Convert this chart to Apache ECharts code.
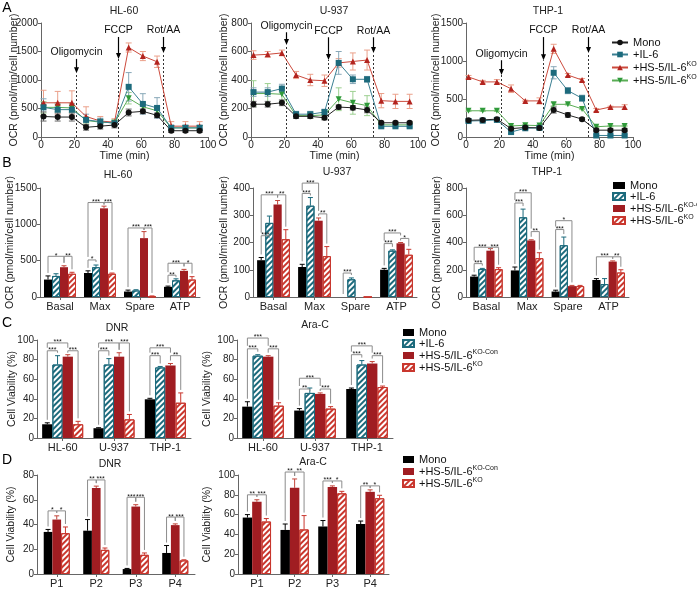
<!DOCTYPE html>
<html><head><meta charset="utf-8">
<script src="https://cdn.jsdelivr.net/npm/echarts@6/dist/echarts.min.js"></script>
<style>html,body{margin:0;padding:0;background:#fff}#c{width:697px;height:589px}</style>
</head><body><div id="c"></div><script>
// ================= DATA =================
// Row A: Seahorse OCR time courses
const timeMin = [1.5, 10, 18.5, 27, 35.5, 44, 52.5, 61, 69.5, 78, 86.5, 95];
const injectNames = ['Oligomycin', 'FCCP', 'Rot/AA'];
const injectTimes = [21, 46, 73];

const hl60Mono     = [360, 350, 350, 170, 190, 210, 430, 450, 380, 110, 110, 110];
const hl60MonoErr  = [80, 70, 70, 50, 50, 50, 60, 40, 40, 30, 30, 30];
const hl60IL6      = [520, 480, 480, 300, 270, 240, 880, 580, 510, 160, 160, 160];
const hl60IL6Err   = [150, 100, 100, 100, 60, 50, 250, 180, 180, 50, 50, 50];
const hl60KOCon    = [600, 600, 600, 360, 280, 260, 1570, 1420, 1320, 190, 190, 190];
const hl60KOConErr = [220, 200, 210, 170, 80, 60, 80, 80, 100, 80, 80, 80];
const hl60KO       = [520, 520, 510, 290, 260, 250, 680, 530, 460, 160, 160, 160];
const hl60KOErr    = [100, 80, 80, 60, 50, 50, 100, 80, 80, 40, 40, 40];

const u937Mono     = [230, 230, 240, 145, 145, 135, 210, 205, 190, 100, 100, 100];
const u937MonoErr  = [20, 20, 20, 15, 15, 15, 15, 15, 20, 10, 10, 10];
const u937IL6      = [315, 315, 340, 160, 160, 175, 520, 405, 405, 75, 75, 75];
const u937IL6Err   = [30, 30, 30, 20, 20, 20, 80, 30, 20, 10, 10, 10];
const u937KOCon    = [575, 580, 590, 435, 400, 395, 520, 530, 540, 255, 250, 250];
const u937KOConErr = [30, 20, 20, 25, 40, 40, 30, 60, 70, 50, 50, 50];
const u937KO       = [305, 305, 300, 150, 150, 155, 265, 240, 220, 85, 85, 85];
const u937KOErr    = [90, 70, 50, 20, 20, 30, 80, 80, 70, 10, 10, 10];

const thp1Mono     = [220, 225, 235, 110, 125, 120, 355, 290, 235, 90, 90, 90];
const thp1MonoErr  = [20, 20, 20, 20, 20, 20, 40, 30, 20, 20, 20, 20];
const thp1IL6      = [210, 215, 225, 65, 115, 120, 845, 610, 510, 20, 20, 20];
const thp1IL6Err   = [20, 20, 20, 20, 20, 20, 80, 40, 40, 10, 10, 10];
const thp1KOCon    = [790, 725, 725, 635, 475, 475, 1160, 815, 750, 355, 395, 395];
const thp1KOConErr = [20, 20, 30, 50, 10, 40, 60, 20, 20, 20, 10, 30];
const thp1KO       = [345, 345, 345, 145, 155, 150, 430, 430, 370, 135, 145, 145];
const thp1KOErr    = [10, 10, 10, 10, 10, 10, 20, 10, 10, 10, 10, 10];

// Row B: OCR parameters
const ocrCats = ['Basal', 'Max', 'Spare', 'ATP'];
const bHL60Mono = [240, 330, 75, 140],   bHL60MonoErr = [50, 30, 20, 10];
const bHL60IL6  = [290, 410, 90, 230],   bHL60IL6Err  = [30, 30, 10, 20];
const bHL60KOCon= [410, 1220, 810, 360], bHL60KOConErr= [20, 30, 90, 20];
const bHL60KO   = [320, 320, 5, 240],    bHL60KOErr   = [20, 10, 10, 40];
const bU937Mono = [135, 110, 0, 100],    bU937MonoErr = [10, 10, 0, 5];
const bU937IL6  = [272, 335, 65, 170],   bU937IL6Err  = [25, 30, 5, 3];
const bU937KOCon= [339, 280, 0, 197],    bU937KOConErr= [15, 10, 0, 3];
const bU937KO   = [212, 150, 0, 155],    bU937KOErr   = [35, 35, 0, 20];
const bTHP1Mono = [150, 195, 40, 125],   bTHP1MonoErr = [10, 25, 10, 10];
const bTHP1IL6  = [205, 585, 380, 95],   bTHP1IL6Err  = [5, 60, 60, 40];
const bTHP1KOCon= [340, 415, 80, 260],   bTHP1KOConErr= [15, 5, 5, 5];
const bTHP1KO   = [205, 285, 80, 180],   bTHP1KOErr   = [10, 40, 5, 20];
// brackets: [category, fromGroup, toGroup, level, label]
const bHL60Sig = [[0,0,2,560,'*'],[0,2,3,560,'**'],[1,0,1,510,'*'],[1,0,2,1300,'***'],[1,2,3,1300,'***'],[2,0,2,950,'***'],[2,2,3,950,'***'],[3,0,1,300,'**'],[3,0,2,465,'***'],[3,2,3,465,'*']];
const bU937Sig = [[0,0,1,225,'***'],[0,0,2,375,'***'],[0,2,3,375,'**'],[1,0,1,380,'***'],[1,0,2,418,'***'],[1,2,3,305,'**'],[2,0,1,88,'***'],[3,0,1,196,'***'],[3,0,2,235,'***'],[3,2,3,215,'*']];
const bTHP1Sig = [[0,0,1,245,'***'],[0,0,2,365,'***'],[0,2,3,365,'***'],[1,0,1,690,'***'],[1,0,2,765,'***'],[1,2,3,480,'**'],[2,0,1,495,'***'],[2,0,2,560,'*'],[3,0,2,295,'***'],[3,2,3,295,'**']];

// Row C: cell viability, cell lines
const lineCats = ['HL-60', 'U-937', 'THP-1'];
const cDNRMono = [14, 10, 39.5],  cDNRMonoErr = [1.5, 0.5, 1];
const cDNRIL6  = [75, 75, 72],    cDNRIL6Err  = [9, 6, 1];
const cDNRKOCon= [83, 83, 74],    cDNRKOConErr= [2, 4, 2];
const cDNRKO   = [14, 19, 36],    cDNRKOErr   = [3, 5, 10];
const cAraMono = [32, 28, 50],    cAraMonoErr = [5, 2, 1];
const cAraIL6  = [84, 46, 75],    cAraIL6Err  = [1, 5, 4];
const cAraKOCon= [83, 45, 76],    cAraKOConErr= [1, 1, 2];
const cAraKO   = [33, 30, 52],    cAraKOErr   = [3, 2, 1];
const cDNRSig = [[0,0,1,89,'***'],[0,0,2,97,'***'],[0,2,3,89,'***'],[1,0,1,89,'***'],[1,0,2,97,'***'],[1,2,3,97,'***'],[2,0,1,84,'***'],[2,0,2,92,'***'],[2,2,3,84,'**']];
const cAraSig = [[0,0,1,91,'***'],[0,0,2,102,'***'],[0,2,3,91,'***'],[1,0,1,50,'**'],[1,0,2,61,'***'],[1,2,3,50,'***'],[2,0,1,85,'***'],[2,0,2,94,'***'],[2,2,3,84,'***']];

// Row D: primary samples
const patientCats = ['P1', 'P2', 'P3', 'P4'];
const dDNRMono = [34, 35, 4, 17],       dDNRMonoErr = [2, 9, 0.5, 6];
const dDNRKOCon= [44, 69.5, 54.5, 39.5], dDNRKOConErr= [3, 1.5, 1.5, 1];
const dDNRKO   = [33, 19.5, 15.5, 11],  dDNRKOErr   = [5, 1.5, 1.5, 0.5];
const dAraMono = [57, 44.5, 48, 50.5],  dAraMonoErr = [3, 6, 6, 3];
const dAraKOCon= [73, 87, 88, 83],      dAraKOConErr= [2, 9, 1, 2];
const dAraKO   = [53, 45, 81.5, 76.5],  dAraKOErr   = [3, 14, 2, 3];
const dDNRSig = [[0,0,1,51,'*'],[0,1,2,51,'*'],[1,0,1,76,'**'],[1,1,2,76,'***'],[2,0,1,62,'***'],[2,1,2,62,'***'],[3,0,1,46,'**'],[3,1,2,46,'***']];
const dAraSig = [[0,0,1,80,'**'],[0,1,2,80,'***'],[1,0,1,103,'**'],[1,1,2,103,'**'],[2,0,1,94,'***'],[2,1,2,94,'*'],[3,0,1,89,'**'],[3,1,2,89,'*']];

// ================= STYLE / BUILD =================
const FONT = '"Liberation Sans", Arial, Helvetica, sans-serif';
const TEAL = '#1c6a7c', RED = '#a01d22', RED2 = '#c9372e';
const LEG_TEXT = {mono:'{n|Mono}', il6:'{n|+IL-6}', kocon:'{n|+HS-5/IL-6}{sup|KO-Con}', ko:'{n|+HS-5/IL-6}{sup|KO}'};

const option = {animation:false, textStyle:{fontFamily:FONT}, grid:[], xAxis:[], yAxis:[], series:[], legend:[], graphic:[]};

function axisBase(){
  return {
    axisLine:{show:true, onZero:false, lineStyle:{color:'#666', width:1}},
    axisTick:{show:true, length:3, lineStyle:{color:'#666'}},
    axisLabel:{color:'#222', fontSize:10, fontFamily:FONT, margin:3, showMaxLabel:true, showMinLabel:true, hideOverlap:false, formatter:v => String(v)},
    splitLine:{show:false},
    nameMoveOverlap:false,
    nameTextStyle:{color:'#222', fontSize:10.5, fontFamily:FONT}
  };
}
function txt(text, x, y, size, extra){
  option.graphic.push({type:'text', x:x, y:y, silent:true, style:Object.assign({text:text, fontSize:size, fontFamily:FONT, fill:'#222', align:'center', verticalAlign:'middle', textAlign:'center', textVerticalAlign:'middle'}, extra||{})});
}
function legendCfg(keys, left, top, itemW, itemH, gap){
  return {orient:'vertical', left:left, top:top, data:keys, itemWidth:itemW, itemHeight:itemH, itemGap:gap, icon: itemW<14 ? 'rect' : undefined,
    selectedMode:false, padding:0,
    formatter:function(n){ return LEG_TEXT[n.split('-')[1]]; },
    textStyle:{fontSize:11, color:'#111', fontFamily:FONT, rich:{n:{fontSize:11, lineHeight:13, fontFamily:FONT, color:'#111'}, sup:{fontSize:7, lineHeight:13, verticalAlign:'top', fontFamily:FONT, color:'#111'}}}};
}

// ---------- line panels ----------
const LINE_GROUPS = [
  {key:'mono',  color:'#111',    line:'#222',    err:'#666',    symbol:'circle',   rot:0},
  {key:'il6',   color:TEAL,      line:'#3a7f92', err:'#88a8b8', symbol:'rect',     rot:0},
  {key:'kocon', color:'#b3241f', line:'#cc4a3c', err:'#eba08a', symbol:'triangle', rot:0},
  {key:'ko',    color:'#2f9a3a', line:'#5aad55', err:'#9ccf90', symbol:'triangle', rot:180}
];
function lineErr(color){
  return function(params, api){
    const x = api.value(0), v = api.value(1), e = api.value(2);
    const p1 = api.coord([x, v + e]), p2 = api.coord([x, Math.max(0, v - e)]);
    const s = {stroke:color, lineWidth:1};
    return {type:'group', children:[
      {type:'line', shape:{x1:p1[0], y1:p1[1], x2:p2[0], y2:p2[1]}, style:s},
      {type:'line', shape:{x1:p1[0]-3, y1:p1[1], x2:p1[0]+3, y2:p1[1]}, style:s},
      {type:'line', shape:{x1:p2[0]-3, y1:p2[1], x2:p2[0]+3, y2:p2[1]}, style:s}
    ]};
  };
}
function injRender(params, api){
  const t = api.value(0);
  const base = api.coord([t, 0]), tip = api.coord([t, api.value(1)]), top = api.coord([t, api.value(2)]);
  const x = Math.round(base[0]) + 0.5;
  return {type:'group', children:[
    {type:'line', shape:{x1:x, y1:base[1], x2:x, y2:tip[1]}, style:{stroke:'#333', lineWidth:1, lineDash:[2,2]}},
    {type:'line', shape:{x1:x, y1:top[1], x2:x, y2:tip[1]-5}, style:{stroke:'#000', lineWidth:1.2}},
    {type:'polygon', shape:{points:[[x-2.5, tip[1]-6], [x+2.5, tip[1]-6], [x, tip[1]]]}, style:{fill:'#000'}},
    {type:'text', style:{text:injectNames[params.dataIndex], x:x, y:top[1]-1, align:'center', verticalAlign:'bottom', textAlign:'center', textVerticalAlign:'bottom', fontSize:10.5, fontFamily:FONT, fill:'#111'}}
  ]};
}
function linePanel(p){
  const gi = option.grid.length;
  option.grid.push({left:p.left, top:p.top, width:p.width, height:p.height});
  option.xAxis.push(Object.assign(axisBase(), {type:'value', gridIndex:gi, min:0, max:100, interval:20, name:'Time (min)', nameLocation:'middle', nameGap:14}));
  option.yAxis.push(Object.assign(axisBase(), {type:'value', gridIndex:gi, min:0, max:p.yMax, interval:p.yInt, name:'OCR (pmol/min/cell number)', nameLocation:'middle', nameGap:p.nameGap}));
  option.series.push({type:'custom', xAxisIndex:gi, yAxisIndex:gi, silent:true, clip:false, z:1,
    data:injectTimes.map((t, i) => [t, p.injTip[i], p.injTop[i]]), renderItem:injRender});
  [3, 2, 1, 0].forEach(k => {
    const g = LINE_GROUPS[k];
    option.series.push({type:'custom', xAxisIndex:gi, yAxisIndex:gi, silent:true, z:2,
      data:timeMin.map((t, i) => [t, p.vals[k][i], p.errs[k][i]]), renderItem:lineErr(g.err)});
    option.series.push({type:'line', name:'A-' + g.key, xAxisIndex:gi, yAxisIndex:gi, z:3,
      data:timeMin.map((t, i) => [t, p.vals[k][i]]), symbol:g.symbol, symbolSize:6, symbolRotate:g.rot,
      lineStyle:{color:g.line, width:1}, itemStyle:{color:g.color}});
  });
}

// ---------- bar panels ----------
function hatch(color){ return {symbol:'rect', symbolSize:1, color:color, dashArrayX:[1,0], dashArrayY:[2,2], rotation:-Math.PI/4}; }
const BAR_STYLES = {
  mono:{item:{color:'#000'}, err:'#000'},
  il6:{item:{color:'#fff', borderColor:TEAL, borderWidth:1, decal:hatch(TEAL)}, err:TEAL},
  kocon:{item:{color:RED}, err:'#c2453a'},
  ko:{item:{color:'#fff', borderColor:RED2, borderWidth:1, decal:hatch(RED2)}, err:RED2}
};
function barErr(color, k, n, frac){
  return function(params, api){
    const ci = api.value(0), v = api.value(1), e = api.value(2);
    if (!(e > 0)) return;
    const band = api.size([1, 0])[0];
    const c0 = api.coord([ci, v]), c1 = api.coord([ci, v + e]);
    const x = c0[0] + (k - (n - 1) / 2) * frac * band;
    const s = {stroke:color, lineWidth:1};
    return {type:'group', children:[
      {type:'line', shape:{x1:x, y1:c0[1], x2:x, y2:c1[1]}, style:s},
      {type:'line', shape:{x1:x-2.5, y1:c1[1], x2:x+2.5, y2:c1[1]}, style:s}
    ]};
  };
}
function bracketRender(p){
  const n = p.groups.length;
  return function(params, api){
    const b = p.brackets[params.dataIndex];
    const ci = b[0];
    const band = api.size([1, 0])[0];
    const center = api.coord([ci, 0])[0];
    const xOf = k => center + (k - (n - 1) / 2) * p.frac * band;
    const yLine = api.coord([ci, b[3]])[1];
    const legBottom = k => {
      let base = p.groups[k].vals[ci] + p.groups[k].errs[ci];
      p.brackets.forEach(o => { if (o !== b && o[0] === ci && o[3] < b[3] && k >= o[1] && k <= o[2]) base = Math.max(base, o[3]); });
      let y = api.coord([ci, base])[1] - 3;
      if (y < yLine + 2) y = yLine + 2;
      return y;
    };
    const x1 = xOf(b[1]), x2 = xOf(b[2]);
    return {type:'group', children:[
      {type:'polyline', shape:{points:[[x1, legBottom(b[1])], [x1, yLine], [x2, yLine], [x2, legBottom(b[2])]]}, style:{stroke:'#8c8c8c', lineWidth:1, fill:null}},
      {type:'text', style:{text:b[4], x:(x1 + x2) / 2, y:yLine + 3, align:'center', verticalAlign:'bottom', textAlign:'center', textVerticalAlign:'bottom', fontSize:7, fontFamily:FONT, fill:'#111'}}
    ]};
  };
}
function barPanel(p){
  const gi = option.grid.length;
  option.grid.push({left:p.left, top:p.top, width:p.width, height:p.height});
  option.xAxis.push(Object.assign(axisBase(), {type:'category', gridIndex:gi, data:p.cats,
    axisTick:{show:true, alignWithLabel:true, length:3, lineStyle:{color:'#666'}},
    axisLabel:{color:'#222', fontSize:11, fontFamily:FONT, margin:4}}));
  option.yAxis.push(Object.assign(axisBase(), {type:'value', gridIndex:gi, min:0, max:p.yMax, interval:p.yInt, name:p.yName, nameLocation:'middle', nameGap:p.nameGap}));
  const n = p.groups.length;
  p.groups.forEach((g, k) => {
    const st = BAR_STYLES[g.key];
    option.series.push({type:'bar', name:p.prefix + '-' + g.key, xAxisIndex:gi, yAxisIndex:gi, data:g.vals,
      barWidth:(p.frac * 100) + '%', barGap:'0%', itemStyle:st.item, z:2});
    option.series.push({type:'custom', xAxisIndex:gi, yAxisIndex:gi, silent:true, z:4,
      data:g.vals.map((v, i) => [i, v, g.errs[i]]), renderItem:barErr(st.err, k, n, p.frac)});
  });
  option.series.push({type:'custom', xAxisIndex:gi, yAxisIndex:gi, silent:true, clip:false, z:5,
    data:p.brackets.map(b => [b[0], b[3]]), renderItem:bracketRender(p)});
}
function grp(key, vals, errs){ return {key:key, vals:vals, errs:errs}; }

// ----- Row A -----
linePanel({left:41, top:23, width:167, height:114, yMax:2000, yInt:500, nameGap:21,
  vals:[hl60Mono, hl60IL6, hl60KOCon, hl60KO], errs:[hl60MonoErr, hl60IL6Err, hl60KOConErr, hl60KOErr],
  injTip:[1120, 1370, 1475], injTop:[1370, 1755, 1755]});
linePanel({left:251, top:23, width:167, height:114, yMax:800, yInt:200, nameGap:21,
  vals:[u937Mono, u937IL6, u937KOCon, u937KO], errs:[u937MonoErr, u937IL6Err, u937KOConErr, u937KOErr],
  injTip:[645, 540, 590], injTop:[735, 700, 700]});
linePanel({left:466, top:23, width:167, height:114, yMax:1500, yInt:500, nameGap:24,
  vals:[thp1Mono, thp1IL6, thp1KOCon, thp1KO], errs:[thp1MonoErr, thp1IL6Err, thp1KOConErr, thp1KOErr],
  injTip:[815, 1010, 1105], injTop:[1010, 1315, 1315]});

// ----- Row B -----
const OCR_NAME = 'OCR (pmol/min/cell number)';
barPanel({left:40, top:188, width:160, height:109, yMax:1500, yInt:500, yName:OCR_NAME, nameGap:24, frac:0.2, prefix:'B', cats:ocrCats,
  groups:[grp('mono', bHL60Mono, bHL60MonoErr), grp('il6', bHL60IL6, bHL60IL6Err), grp('kocon', bHL60KOCon, bHL60KOConErr), grp('ko', bHL60KO, bHL60KOErr)], brackets:bHL60Sig});
barPanel({left:253, top:188, width:164, height:109, yMax:400, yInt:100, yName:OCR_NAME, nameGap:23, frac:0.2, prefix:'B', cats:ocrCats,
  groups:[grp('mono', bU937Mono, bU937MonoErr), grp('il6', bU937IL6, bU937IL6Err), grp('kocon', bU937KOCon, bU937KOConErr), grp('ko', bU937KO, bU937KOErr)], brackets:bU937Sig});
barPanel({left:466, top:188, width:163, height:109, yMax:800, yInt:200, yName:OCR_NAME, nameGap:23, frac:0.2, prefix:'B', cats:ocrCats,
  groups:[grp('mono', bTHP1Mono, bTHP1MonoErr), grp('il6', bTHP1IL6, bTHP1IL6Err), grp('kocon', bTHP1KOCon, bTHP1KOConErr), grp('ko', bTHP1KO, bTHP1KOErr)], brackets:bTHP1Sig});

// ----- Row C -----
const VIA_NAME = 'Cell Viability (%)';
barPanel({left:37, top:340, width:154, height:98, yMax:100, yInt:20, yName:VIA_NAME, nameGap:19, frac:0.2, prefix:'C', cats:lineCats,
  groups:[grp('mono', cDNRMono, cDNRMonoErr), grp('il6', cDNRIL6, cDNRIL6Err), grp('kocon', cDNRKOCon, cDNRKOConErr), grp('ko', cDNRKO, cDNRKOErr)], brackets:cDNRSig});
barPanel({left:237, top:340, width:156, height:98, yMax:100, yInt:20, yName:VIA_NAME, nameGap:24, frac:0.2, prefix:'C', cats:lineCats,
  groups:[grp('mono', cAraMono, cAraMonoErr), grp('il6', cAraIL6, cAraIL6Err), grp('kocon', cAraKOCon, cAraKOConErr), grp('ko', cAraKO, cAraKOErr)], brackets:cAraSig});

// ----- Row D -----
barPanel({left:37, top:475, width:158, height:101, yMax:80, yInt:20, yName:VIA_NAME, nameGap:20, frac:0.22, prefix:'D', cats:patientCats,
  groups:[grp('mono', dDNRMono, dDNRMonoErr), grp('kocon', dDNRKOCon, dDNRKOConErr), grp('ko', dDNRKO, dDNRKOErr)], brackets:dDNRSig});
barPanel({left:238, top:475, width:151, height:101, yMax:100, yInt:20, yName:VIA_NAME, nameGap:25, frac:0.25, prefix:'D', cats:patientCats,
  groups:[grp('mono', dAraMono, dAraMonoErr), grp('kocon', dAraKOCon, dAraKOConErr), grp('ko', dAraKO, dAraKOErr)], brackets:dAraSig});

// ----- Legends -----
option.legend.push(legendCfg(['A-mono','A-il6','A-kocon','A-ko'], 611, 37, 16, 7, 1));
option.legend.push(legendCfg(['B-mono','B-il6','B-kocon','B-ko'], 612, 180, 12, 7, 0));
option.legend.push(legendCfg(['C-mono','C-il6','C-kocon','C-ko'], 402, 327, 11, 7, 0));
option.legend.push(legendCfg(['D-mono','D-kocon','D-ko'], 402, 454, 11, 7, 0));

// ----- Titles & panel letters -----
txt('HL-60', 124, 11, 10.5); txt('U-937', 334, 11, 10.5); txt('THP-1', 548, 11, 10.5);
txt('HL-60', 118, 175, 10.5); txt('U-937', 337, 172, 10.5); txt('THP-1', 547, 172, 10.5);
txt('DNR', 117, 328, 10.5); txt('Ara-C', 315, 325, 10.5);
txt('DNR', 110, 464, 10.5); txt('Ara-C', 313, 462, 10.5);
txt('A', 7, 8, 14, {fill:'#000'}); txt('B', 7, 163, 14, {fill:'#000'}); txt('C', 7, 323, 14, {fill:'#000'}); txt('D', 7, 460, 14, {fill:'#000'});

const chart = echarts.init(document.getElementById('c'), null, {renderer:'canvas'});
chart.setOption(option);
</script></body></html>
